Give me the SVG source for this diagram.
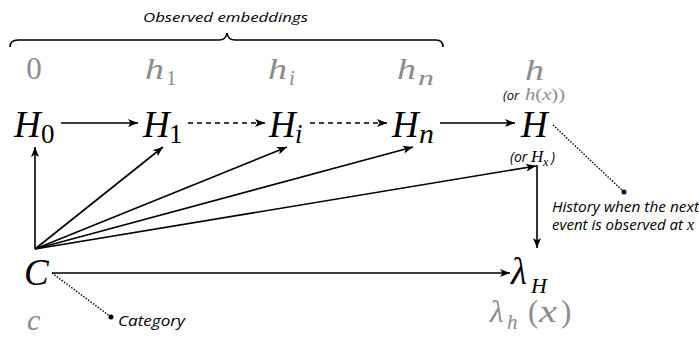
<svg xmlns="http://www.w3.org/2000/svg" width="699" height="339" viewBox="0 0 699 339">
<defs>
<marker id="arr" markerUnits="userSpaceOnUse" markerWidth="11" markerHeight="9" refX="10" refY="4.5" orient="auto">
<path d="M0,0.5 L10,4.5 L0,8.5 L2.5,4.5 z" fill="#000"/>
</marker>
</defs>
<style>
.m{font-family:"Liberation Serif",serif;font-style:italic;fill:#000}
.u{font-style:normal}
.g{fill:#8c8c8c}
.t{font-family:"Open Sans","Liberation Sans",sans-serif;font-style:italic;fill:#000}
.ln{stroke:#000;stroke-width:1.6;fill:none}
.da{stroke-dasharray:5,4}
.dt{stroke:#000;stroke-width:1.4;stroke-dasharray:1.5,1.5;fill:none}
</style>
<rect width="699" height="339" fill="#fff"/>

<g id="brace">
<text class="t" x="143" y="22" font-size="13.5" textLength="165" lengthAdjust="spacingAndGlyphs">Observed embeddings</text>
<path class="ln" stroke-width="1.5" d="M10,47 Q10,40 18,40 L219,40 Q226,40 227,33 Q228,40 235,40 L436,40 Q443,40 443,47"/>
</g>

<g id="labels-gray">
<text class="m u g" x="34" y="79" font-size="31" text-anchor="middle">0</text>
<text class="m g" x="145" y="79" font-size="30" textLength="19" lengthAdjust="spacingAndGlyphs">h</text><text class="m u g" x="166" y="85" font-size="21">1</text>
<text class="m g" x="268" y="79" font-size="30" textLength="19" lengthAdjust="spacingAndGlyphs">h</text><text class="m g" x="289" y="85" font-size="21">i</text>
<text class="m g" x="397" y="79" font-size="30" textLength="19" lengthAdjust="spacingAndGlyphs">h</text><text class="m g" x="418" y="85" font-size="21" textLength="16" lengthAdjust="spacingAndGlyphs">n</text>
<text class="m g" x="525" y="80" font-size="30" textLength="19" lengthAdjust="spacingAndGlyphs">h</text>
<text class="t g" x="503" y="100" font-size="13">(or</text>
<text class="m g" x="525" y="100" font-size="16" textLength="40" lengthAdjust="spacingAndGlyphs">h<tspan class="u">(</tspan>x<tspan class="u">))</tspan></text>
</g>

<g id="H0"><text class="m" x="14" y="137" font-size="37">H</text><text class="m u" x="41" y="143" font-size="27">0</text></g>
<g id="H1"><text class="m" x="143" y="137" font-size="37">H</text><text class="m u" x="169" y="143" font-size="27">1</text></g>
<g id="Hi"><text class="m" x="269" y="137" font-size="37">H</text><text class="m" x="295" y="143" font-size="27">i</text></g>
<g id="Hn"><text class="m" x="392" y="137" font-size="37">H</text><text class="m" x="419" y="143" font-size="27" textLength="15" lengthAdjust="spacingAndGlyphs">n</text></g>
<g id="H"><text class="m" x="521" y="137" font-size="37">H</text>
<text class="t" x="510" y="162" font-size="14">(or</text>
<text class="m" x="531" y="162" font-size="17">H</text><text class="m" x="543" y="166" font-size="12">x</text><text class="t" x="551" y="162" font-size="14">)</text>
</g>
<g id="C"><text class="m" x="24" y="285" font-size="37">C</text><text class="m g" x="27" y="330" font-size="30">c</text></g>
<g id="lambdaH"><text class="m" x="511" y="284" font-size="37">λ</text><text class="m" x="531" y="293" font-size="22">H</text>
<text class="m g" x="490" y="322" font-size="31">λ</text><text class="m g" x="507" y="329" font-size="21">h</text><text class="m u g" x="528" y="322" font-size="31">(</text><text class="m g" x="539" y="322" font-size="31" textLength="18" lengthAdjust="spacingAndGlyphs">x</text><text class="m u g" x="561" y="322" font-size="31">)</text>
</g>

<g id="annot-history">
<path class="dt" d="M553,125 L624,192"/><circle cx="624" cy="192" r="2.5" fill="#000"/>
<text class="t" x="552" y="212" font-size="14.5" textLength="147" lengthAdjust="spacingAndGlyphs">History when the next</text>
<text class="t" x="552" y="230" font-size="14.5" textLength="131" lengthAdjust="spacingAndGlyphs">event is observed at</text>
<text class="m" x="687" y="230" font-size="16">x</text>
</g>
<g id="annot-category">
<path class="dt" d="M52,273 L111,317"/><circle cx="111" cy="317" r="2.5" fill="#000"/>
<text class="t" x="118" y="326" font-size="15" textLength="67" lengthAdjust="spacingAndGlyphs">Category</text>
</g>

<g id="connectors">
<line class="ln" x1="61" y1="123" x2="138" y2="123" marker-end="url(#arr)"/>
<line class="ln da" x1="188" y1="123" x2="265" y2="123" marker-end="url(#arr)"/>
<line class="ln da" x1="310" y1="123" x2="387" y2="123" marker-end="url(#arr)"/>
<line class="ln" x1="440" y1="123" x2="515" y2="123" marker-end="url(#arr)"/>
<line class="ln" x1="35" y1="249" x2="35" y2="147" marker-end="url(#arr)"/>
<line class="ln" x1="35" y1="249" x2="163" y2="147" marker-end="url(#arr)"/>
<line class="ln" x1="35" y1="249" x2="287" y2="147" marker-end="url(#arr)"/>
<line class="ln" x1="35" y1="249" x2="413" y2="147" marker-end="url(#arr)"/>
<line class="ln" x1="35" y1="249" x2="536" y2="166" marker-end="url(#arr)"/>
<line class="ln" x1="537" y1="165" x2="537" y2="248" marker-end="url(#arr)"/>
<line class="ln" x1="52" y1="273" x2="510" y2="273" marker-end="url(#arr)"/>
</g>
</svg>
